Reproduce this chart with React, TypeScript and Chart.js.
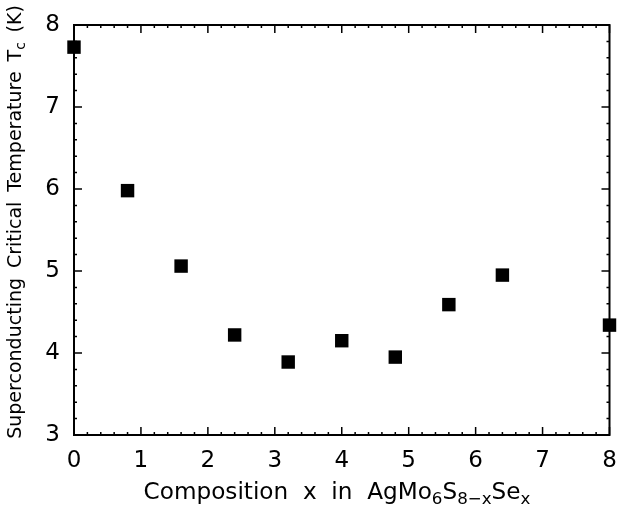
import React, { useEffect, useRef } from "react";
import { Chart, registerables } from "chart.js";

Chart.register(...registerables);

const compositionX = [0, 0.8, 1.6, 2.4, 3.2, 4.0, 4.8, 5.6, 6.4, 8.0];
const criticalTc = [7.73, 5.98, 5.06, 4.22, 3.89, 4.15, 3.95, 4.59, 4.95, 4.34];
const xTickLabels = [0, 1, 2, 3, 4, 5, 6, 7, 8];
const yTickLabels = [3, 4, 5, 6, 7, 8];
const minorPerMajor = 5;

const FONT = "'DejaVu Sans', sans-serif";

type Seg = { t: string; sub?: boolean };

const xTitle: Seg[] = [
  { t: "Composition  x  in  AgMo" },
  { t: "6", sub: true },
  { t: "S" },
  { t: "8\u2212x", sub: true },
  { t: "Se" },
  { t: "x", sub: true },
];
const yTitle: Seg[] = [
  { t: "Superconducting \u2009Critical \u2009Temperature \u2009T" },
  { t: "c", sub: true },
  { t: " \u2009(K)" },
];

function drawSegs(
  ctx: CanvasRenderingContext2D,
  segs: Seg[],
  size: number,
  subRatio: number,
  cx: number,
  baseline: number,
  targetWidth: number
) {
  const measure = (sz: number) => {
    let total = 0;
    for (const s of segs) {
      ctx.font = `${s.sub ? sz * subRatio : sz}px ${FONT}`;
      total += ctx.measureText(s.t).width;
    }
    return total;
  };
  const w0 = measure(size);
  const sz = size * (targetWidth / w0);
  const total = measure(sz);
  let x = cx - total / 2;
  ctx.textAlign = "left";
  ctx.textBaseline = "alphabetic";
  for (const s of segs) {
    ctx.font = `${s.sub ? sz * subRatio : sz}px ${FONT}`;
    ctx.fillText(s.t, x, baseline + (s.sub ? sz * 0.2 : 0));
    x += ctx.measureText(s.t).width;
  }
}

const framePlugin = {
  id: "frameTicks",
  afterDraw(chart: any) {
    const ctx: CanvasRenderingContext2D = chart.ctx;
    const { left, right, top, bottom } = chart.chartArea;
    const xs = chart.scales.x;
    const ys = chart.scales.y;
    ctx.save();
    ctx.strokeStyle = "#000";
    ctx.fillStyle = "#000";
    ctx.lineWidth = 2;
    ctx.strokeRect(left, top, right - left, bottom - top);
    ctx.lineWidth = 1.5;
    const xMin = xTickLabels[0];
    const xMax = xTickLabels[xTickLabels.length - 1];
    const nx = (xMax - xMin) * minorPerMajor;
    ctx.beginPath();
    for (let i = 0; i <= nx; i++) {
      const v = xMin + i / minorPerMajor;
      const px = xs.getPixelForValue(v);
      const len = i % minorPerMajor === 0 ? 8 : 3;
      ctx.moveTo(px, bottom);
      ctx.lineTo(px, bottom - len);
      ctx.moveTo(px, top);
      ctx.lineTo(px, top + len);
    }
    const yMin = yTickLabels[0];
    const yMax = yTickLabels[yTickLabels.length - 1];
    const ny = (yMax - yMin) * minorPerMajor;
    for (let i = 0; i <= ny; i++) {
      const v = yMin + i / minorPerMajor;
      const py = ys.getPixelForValue(v);
      const len = i % minorPerMajor === 0 ? 8 : 3;
      ctx.moveTo(left, py);
      ctx.lineTo(left + len, py);
      ctx.moveTo(right, py);
      ctx.lineTo(right - len, py);
    }
    ctx.stroke();

    // axis titles
    drawSegs(ctx, xTitle, 22, 0.72, 337, 499, 387);
    ctx.translate(21, 222);
    ctx.rotate(-Math.PI / 2);
    drawSegs(ctx, yTitle, 20, 0.72, 0, 0, 434);
    ctx.restore();
  },
};

export default function App() {
  const ref = useRef<HTMLCanvasElement>(null);
  useEffect(() => {
    document.body.style.margin = "0";
    const chart = new Chart(ref.current!, {
      type: "scatter",
      data: {
        datasets: [
          {
            data: compositionX.map((x, i) => ({ x, y: criticalTc[i] })),
            pointStyle: "rect",
            pointRadius: 9.5,
            pointHoverRadius: 9.5,
            backgroundColor: "#000",
            borderColor: "#000",
            borderWidth: 0,
            clip: false as any,
          },
        ],
      },
      options: {
        animation: false,
        responsive: false,
        devicePixelRatio: 1,
        layout: { padding: { top: 25, right: 0, left: 0, bottom: 0 } },
        plugins: { legend: { display: false }, tooltip: { enabled: false } },
        scales: {
          x: {
            type: "linear",
            min: xTickLabels[0],
            max: xTickLabels[xTickLabels.length - 1],
            afterBuildTicks: (s: any) => {
              s.ticks = xTickLabels.map((v) => ({ value: v }));
            },
            ticks: { color: "#000", font: { size: 23, family: FONT }, padding: 12 },
            grid: { display: false, drawTicks: false },
            border: { display: false },
            afterFit: (s: any) => {
              s.height = 71;
              s.paddingLeft = 0;
              s.paddingRight = 0;
            },
          },
          y: {
            type: "linear",
            min: yTickLabels[0],
            max: yTickLabels[yTickLabels.length - 1],
            afterBuildTicks: (s: any) => {
              s.ticks = yTickLabels.map((v) => ({ value: v }));
            },
            ticks: { color: "#000", font: { size: 23, family: FONT }, padding: 14 },
            grid: { display: false, drawTicks: false },
            border: { display: false },
            afterFit: (s: any) => {
              s.width = 74;
              s.paddingTop = 0;
              s.paddingBottom = 0;
            },
          },
        },
      },
      plugins: [framePlugin],
    });
    return () => chart.destroy();
  }, []);
  return (
    <div style={{ width: 619, height: 506, background: "#fff" }}>
      <canvas ref={ref} width={619} height={506} />
    </div>
  );
}
